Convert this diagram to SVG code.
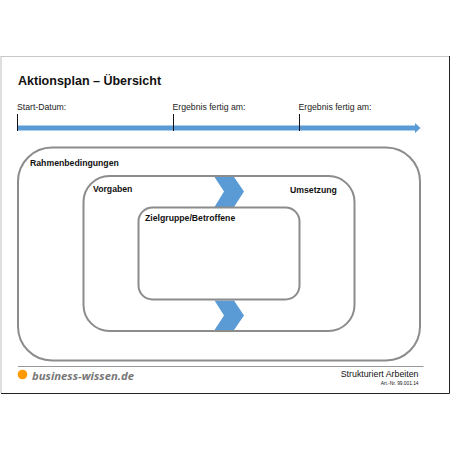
<svg xmlns="http://www.w3.org/2000/svg" width="450" height="450" viewBox="0 0 450 450">
<style>
text{font-family:"Liberation Sans",Arial,sans-serif;fill:#111}
.b{font-weight:bold;font-size:8.7px}
.n{font-size:8.7px;fill:#222}
.box{fill:none;stroke:#8c8c8c;stroke-width:2}
.chev{fill:#5b9bd5}
.tick{stroke:#111;stroke-width:1}
</style>
<rect width="450" height="450" fill="#fff"/>
<g id="page">
<path d="M1 393V56.500H449" fill="none" stroke="#c8c8c8" stroke-width="1.200"/>
<path d="M449.500 56V393.500H1" fill="none" stroke="#222" stroke-width="1"/>
</g>
<text id="title" x="18" y="85" font-size="12.500" font-weight="bold">Aktionsplan – Übersicht</text>
<g id="timeline">
<polygon points="18,125.500 415,125.500 415,123 420.500,128 415,133 415,130.500 18,130.500" fill="#5b9bd5"/>
<line class="tick" x1="17.500" y1="114" x2="17.500" y2="131"/>
<line class="tick" x1="173.500" y1="114" x2="173.500" y2="131"/>
<line class="tick" x1="299.500" y1="114" x2="299.500" y2="131"/>
<text class="n" x="17" y="110">Start-Datum:</text>
<text class="n" x="172.500" y="110">Ergebnis fertig am:</text>
<text class="n" x="298.500" y="110">Ergebnis fertig am:</text>
</g>
<g id="rahmenbedingungen">
<rect class="box" x="18" y="147.500" width="402" height="213" rx="34"/>
<text class="b" x="30" y="166">Rahmenbedingungen</text>
</g>
<g id="vorgaben">
<rect class="box" x="83.500" y="176" width="271" height="155" rx="26"/>
<text class="b" x="93" y="192">Vorgaben</text>
<text class="b" x="290" y="193">Umsetzung</text>
</g>
<g id="connectors">
<polygon class="chev" points="214.500,177 234,177 244,191.500 234,207 214.500,207 224,191.500"/>
<polygon class="chev" points="214.500,300.500 234,300.500 244,315.500 234,330 214.500,330 224,315.500"/>
</g>
<g id="zielgruppe">
<rect class="box" x="138.500" y="207.500" width="161" height="92" rx="14" fill="#fff"/>
<text class="b" x="145" y="221">Zielgruppe/Betroffene</text>
</g>
<g id="footer">
<line x1="18" y1="366.500" x2="423.500" y2="366.500" stroke="#999" stroke-width="1"/>
<circle cx="22.500" cy="374.500" r="4.800" fill="#f90"/>
<text x="32" y="379.500" font-size="11.300" font-weight="bold" font-style="italic" style="font-family:'Open Sans','DejaVu Sans',sans-serif;fill:#777">business-wissen.de</text>
<text x="418.500" y="377" font-size="8.800" text-anchor="end">Strukturiert Arbeiten</text>
<text x="418.500" y="384.500" font-size="4.800" text-anchor="end">Art.-Nr. 99.001.14</text>
</g>
</svg>
